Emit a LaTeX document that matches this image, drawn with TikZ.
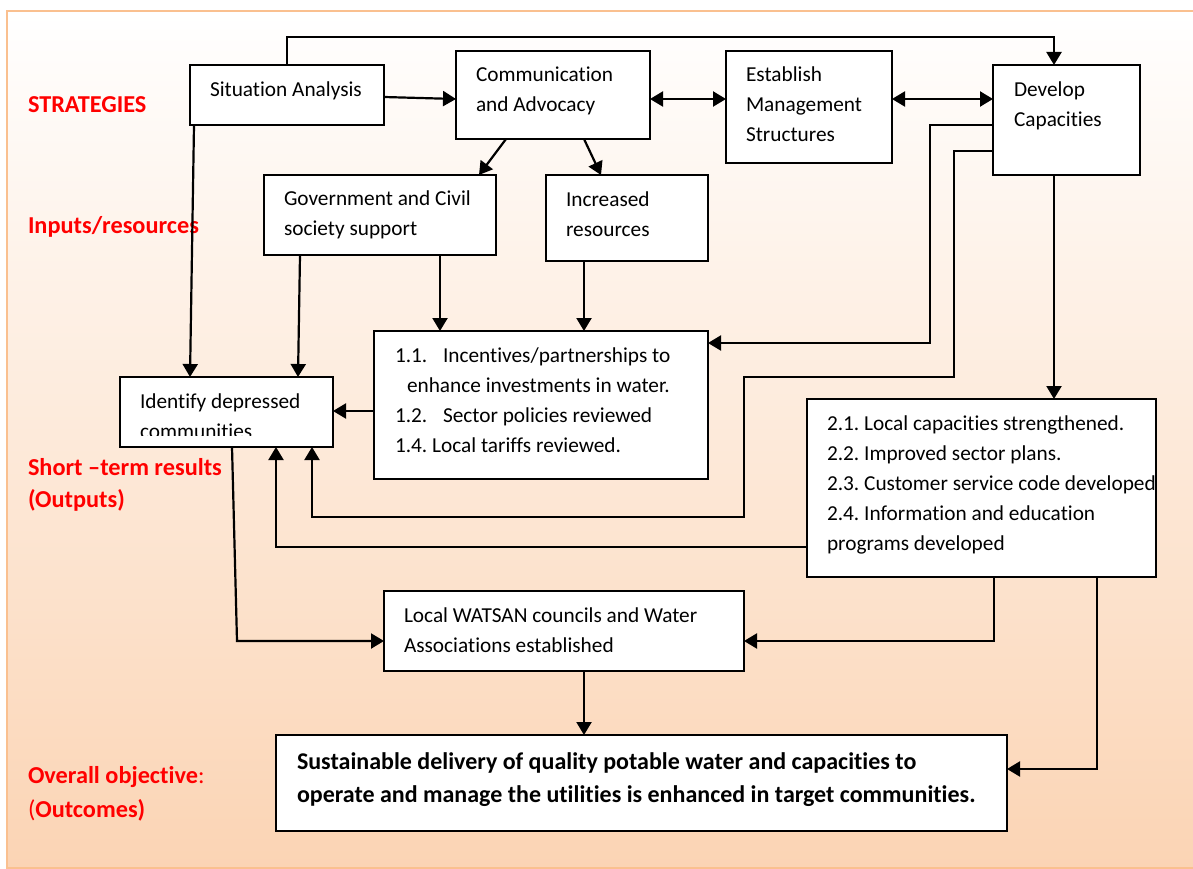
\documentclass[tikz,border=0pt]{standalone}
\usepackage{fontspec}
\setmainfont{Carlito}[Ligatures={NoCommon}]
\usetikzlibrary{arrows.meta}
\definecolor{peach}{RGB}{250,192,143}
\definecolor{peachbot}{RGB}{251,212,180}
\definecolor{lblred}{RGB}{255,0,0}
\frenchspacing
\begin{document}
\begin{tikzpicture}[x=1pt,y=-1pt,
  box/.style={draw=black, line width=2.2pt, fill=white, inner sep=0pt, outer sep=0pt, anchor=north west},
  txt/.style={anchor=base west, inner sep=0pt, outer sep=0pt, font=\fontsize{21.3}{30}\selectfont},
  btxt/.style={anchor=base west, inner sep=0pt, outer sep=0pt, font=\fontsize{24}{33}\selectfont\bfseries},
  lbl/.style={anchor=base west, inner sep=0pt, outer sep=0pt, text=lblred, font=\fontsize{24.3}{32}\selectfont},
  conn/.style={line width=2.2pt},
  arr/.style={conn, -{Triangle[length=13pt,width=15pt]}},
  darr/.style={conn, {Triangle[length=13pt,width=15pt]}-{Triangle[length=13pt,width=15pt]}},
]
\useasboundingbox (0,0) rectangle (1193,869);
\fill[white] (0,0) rectangle (1193,869);
\shade[top color=white, bottom color=peachbot] (7,11) rectangle (1200,868);
\draw[peach, line width=2.5pt] (7,11) rectangle (1200,868);

% side labels
\node[lbl] (l1) at (28,113) {\textbf{STRATEGIES}};
\node[lbl] (l2) at (28,233) {\textbf{Inputs/resources}};
\node[lbl] (l3) at (28,475) {\textbf{Short –term results}};
\node[lbl] (l4) at (28,507) {\textbf{(Outputs)}};
\node[lbl] (l5) at (28,783) {\textbf{Overall objective}:};
\node[lbl] (l6) at (28,817) {(\textbf{Outcomes)}};

% boxes
\node[box, minimum width=194pt, minimum height=60pt] (sa) at (190,65) {};
\node[box, minimum width=194pt, minimum height=88pt] (comm) at (456,51) {};
\node[box, minimum width=166pt, minimum height=112pt] (est) at (726,51) {};
\node[box, minimum width=147pt, minimum height=110pt] (dev) at (993,65) {};
\node[box, minimum width=232pt, minimum height=80pt] (gov) at (264,175) {};
\node[box, minimum width=162pt, minimum height=86pt] (inc) at (546,175) {};
\node[box, minimum width=334pt, minimum height=148pt] (b1) at (374,331) {};
\node[box, minimum width=213pt, minimum height=70pt] (idn) at (120,377) {};
\node[box, minimum width=349pt, minimum height=178pt] (b2) at (807,399) {};
\node[box, minimum width=360pt, minimum height=80pt] (wat) at (384,591) {};
\node[box, minimum width=731pt, minimum height=96pt] (sus) at (276,735) {};

% texts
\node[txt] (sa-t) at (210,97) {Situation Analysis};
\node[txt] (comm-t1) at (476,82) {Communication};
\node[txt] (comm-t2) at (476,112) {and Advocacy};
\node[txt] (est-t1) at (746,82) {Establish};
\node[txt] (est-t2) at (746,112) {Management};
\node[txt] (est-t3) at (746,142) {Structures};
\node[txt] (dev-t1) at (1014,97) {Develop};
\node[txt] (dev-t2) at (1014,127) {Capacities};
\node[txt] (gov-t1) at (284,205) {Government and Civil};
\node[txt] (gov-t2) at (284,235) {society support};
\node[txt] (inc-t1) at (566,206) {Increased};
\node[txt] (inc-t2) at (566,236) {resources};
\node[txt] (b1-n1) at (395,362) {1.1.};
\node[txt] (b1-t1) at (443,362) {Incentives/partnerships to};
\node[txt] (b1-t2) at (407,392) {enhance investments in water.};
\node[txt] (b1-n2) at (395,422) {1.2.};
\node[txt] (b1-t3) at (443,422) {Sector policies reviewed};
\node[txt] (b1-t4) at (395,452) {1.4. Local tariffs reviewed.};
\node[txt] (idn-t1) at (140,408) {Identify depressed};
\begin{scope}
\clip (120,377) rectangle (333,435);
\node[txt] (idn-t2) at (140,438) {communities};
\end{scope}
\node[txt] (b2-t1) at (827,430) {2.1. Local capacities strengthened.};
\node[txt] (b2-t2) at (827,460) {2.2. Improved sector plans.};
\node[txt] (b2-t3) at (827,490) {2.3. Customer service code developed};
\node[txt] (b2-t4) at (827,520) {2.4. Information and education};
\node[txt] (b2-t5) at (827,550) {programs developed};
\node[txt] (wat-t1) at (404,622) {Local WATSAN councils and Water};
\node[txt] (wat-t2) at (404,652) {Associations established};
\node[btxt] (sus-t1) at (297,769) {Sustainable delivery of quality potable water and capacities to};
\node[btxt] (sus-t2) at (297,802) {operate and manage the utilities is enhanced in target communities.};

% connectors
\draw[arr] (sa.north) -- ++(0,-28) -| ([xshift=-12.5pt]dev.north);
\draw[arr] ([yshift=-2pt]sa.east) -- ([yshift=-4pt]comm.west);
\draw[darr] ([yshift=-4pt]comm.east) -- ([yshift=-4pt]comm.east -| est.west);
\draw[darr] ([yshift=8pt]est.east) -- ([yshift=8pt]est.east -| dev.west);
\draw[arr] ([xshift=-47pt]comm.south) -- ([xshift=99pt]gov.north);
\draw[arr] ([xshift=31pt]comm.south) -- ([xshift=-26pt]inc.north);
\draw[arr] ([xshift=-93pt]sa.south) -- ([xshift=-36.5pt]idn.north);
\draw[arr] ([xshift=-80pt]gov.south) -- ([xshift=71.5pt]idn.north);
\draw[arr] ([xshift=60pt]gov.south) -- ([xshift=60pt]gov.south |- b1.north);
\draw[arr] ([xshift=-43pt]inc.south) -- ([xshift=-43pt]inc.south |- b1.north);
\draw[arr] ([yshift=-6pt]b1.west) -- ([yshift=-6pt]b1.west -| idn.east);
\draw[arr] ([yshift=-5pt]dev.west) -- ++(-63,0) |- ([yshift=62pt]b1.east);
\draw[arr] ([yshift=-31pt]dev.west) -- ++(-39,0) -- ++(0,226) -- ++(-210,0) -- ++(0,140) -| ([xshift=85.5pt]idn.south);
\draw[arr] ([yshift=-59pt]b2.west) -| ([xshift=49.5pt]idn.south);
\draw[arr] ([xshift=-12.5pt]dev.south) -- ([xshift=-12.5pt]dev.south |- b2.north);
\draw[arr] ([xshift=5.5pt]idn.south) -- ([xshift=-147pt,yshift=-10pt]wat.west) -- ([yshift=-10pt]wat.west);
\draw[arr] ([xshift=12.5pt]b2.south) |- ([yshift=-10pt]wat.east);
\draw[arr] ([xshift=115.5pt]b2.south) |- ([yshift=14pt]sus.east);
\draw[arr] ([xshift=20pt]wat.south) -- ([xshift=20pt]wat.south |- sus.north);
\end{tikzpicture}
\end{document}
